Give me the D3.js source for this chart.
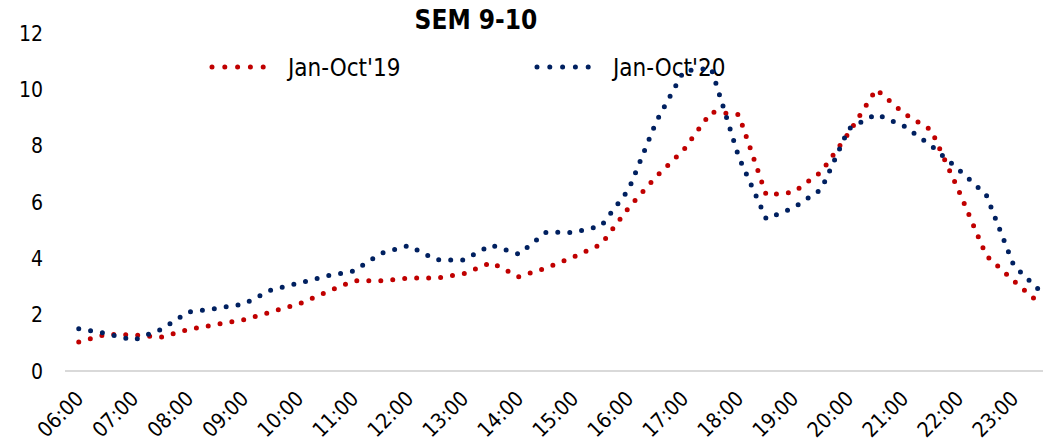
<!DOCTYPE html>
<html>
<head>
<meta charset="utf-8">
<script src="https://cdn.jsdelivr.net/npm/d3@7"></script>
<style>
  body { margin: 0; background: #fff; }
  svg { display: block; font-family: "DejaVu Sans Condensed", "DejaVu Sans", sans-serif; font-stretch: condensed; }
</style>
</head>
<body>
<svg id="chart" width="1043" height="443"></svg>
<script>
var colorRed = "#C00000";
var colorBlue = "#002060";

var times = ["06:00", "06:30", "07:00", "07:30", "08:00", "08:30", "09:00", "09:30",
  "10:00", "10:30", "11:00", "11:30", "12:00", "12:30", "13:00", "13:30",
  "14:00", "14:30", "15:00", "15:30", "16:00", "16:30", "17:00", "17:30",
  "18:00", "18:30", "19:00", "19:30", "20:00", "20:30", "21:00", "21:30",
  "22:00", "22:30", "23:00", "23:30"];

var values19 = [1.03, 1.3, 1.28, 1.2, 1.48, 1.65, 1.82, 2.1,
  2.38, 2.8, 3.2, 3.2, 3.3, 3.3, 3.45, 3.85,
  3.35, 3.66, 4.05, 4.5, 5.8, 6.9, 7.85, 9.2,
  9.1, 6.25, 6.35, 7.07, 8.45, 10.0, 9.15, 8.55,
  6.4, 4.1, 3.2, 2.35];

var values20 = [1.5, 1.33, 1.1, 1.48, 2.1, 2.22, 2.38, 2.88,
  3.12, 3.37, 3.55, 4.18, 4.45, 3.95, 3.94, 4.47,
  4.15, 4.93, 4.92, 5.15, 6.45, 8.85, 10.65, 10.75,
  7.6, 5.4, 5.8, 6.45, 8.6, 9.12, 8.7, 8.0,
  7.15, 6.25, 3.75, 2.8];

var yTicks = [0, 2, 4, 6, 8, 10, 12];
var series = [
  { name: "Jan-Oct'19", values: values19, color: colorRed },
  { name: "Jan-Oct'20", values: values20, color: colorBlue }
];

var svg = d3.select("#chart");

var x = d3.scalePoint()
  .domain(times)
  .range([65, 1055])
  .padding(0.5);

var y = d3.scaleLinear()
  .domain([0, 12])
  .range([371, 33]);

// title
svg.append("text")
  .attr("x", 476)
  .attr("y", 29)
  .attr("text-anchor", "middle")
  .style("font-weight", "bold")
  .style("font-size", "26px")
  .attr("fill", "#000")
  .text("SEM 9-10");

// y axis labels, no axis line
svg.append("g")
  .selectAll("text")
  .data(yTicks)
  .enter()
  .append("text")
  .attr("x", 43)
  .attr("y", function(d) { return y(d); })
  .attr("dy", "0.36em")
  .attr("text-anchor", "end")
  .style("font-size", "21px")
  .attr("fill", "#000")
  .text(function(d) { return d; });

// baseline
svg.append("line")
  .attr("x1", 65)
  .attr("x2", 1055)
  .attr("y1", y(0))
  .attr("y2", y(0))
  .attr("stroke", "#d9d9d9")
  .attr("stroke-width", 2);

// x labels, one per hour
svg.append("g")
  .selectAll("text")
  .data(times.filter(function(t, i) { return i % 2 === 0; }))
  .enter()
  .append("text")
  .attr("transform", function(d) {
    return "translate(" + (x(d) + 6) + ",400) rotate(-45)";
  })
  .attr("text-anchor", "end")
  .style("font-size", "21px")
  .attr("fill", "#000")
  .text(function(d) { return d; });

// legend
var legend = svg.append("g");
var legendX = [212, 537];
series.forEach(function(s, i) {
  legend.append("line")
    .attr("x1", legendX[i])
    .attr("x2", legendX[i] + 64)
    .attr("y1", 67)
    .attr("y2", 67)
    .attr("stroke", s.color)
    .attr("stroke-width", 5)
    .attr("stroke-linecap", "round")
    .attr("stroke-dasharray", "0 12.8");
  legend.append("text")
    .attr("x", legendX[i] + 76)
    .attr("y", 67)
    .attr("dy", "0.36em")
    .style("font-size", "24px")
    .attr("fill", "#000")
    .text(s.name);
});

var line = d3.line()
  .x(function(d, i) { return x(times[i]); })
  .y(function(d) { return y(d); });

series.forEach(function(s) {
  svg.append("path")
    .datum(s.values)
    .attr("fill", "none")
    .attr("stroke", s.color)
    .attr("stroke-width", 5)
    .attr("stroke-linecap", "round")
    .attr("stroke-linejoin", "round")
    .attr("stroke-dasharray", "0 12")
    .attr("d", line);
});
</script>
</body>
</html>
